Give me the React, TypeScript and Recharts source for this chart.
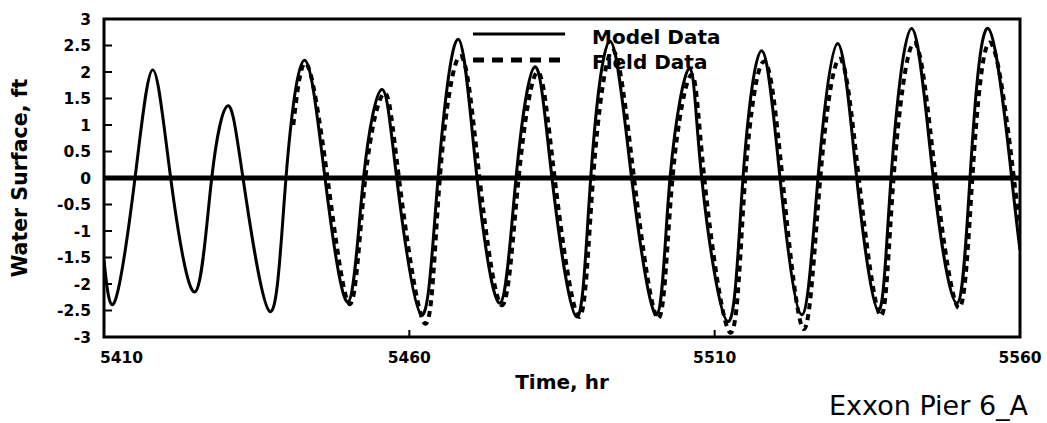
import React from 'react';
import { LineChart, Line, XAxis, YAxis, ReferenceLine, ReferenceArea } from 'recharts';

// Model Data: times (hr) and water surface (ft) read at extremes and zero crossings
const modelTime = [
  5410, 5411.8, 5415.08, 5417.97, 5420.92, 5424.9, 5427.64, 5430.26, 5432.76, 5437.18,
  5439.8, 5442.85, 5446.19, 5449.96, 5452.5, 5455.5, 5457.93, 5462.0, 5464.7, 5468.0,
  5471.08, 5474.85, 5477.47, 5480.58, 5483.36, 5487.4, 5489.7, 5492.86, 5496.4, 5500.5,
  5502.69, 5505.88, 5507.88, 5512.18, 5514.64, 5517.7, 5520.7, 5524.25, 5526.92, 5530.15,
  5533.26, 5536.8, 5538.88, 5542.26, 5545.8, 5549.63, 5551.81, 5554.8, 5558.64, 5560,
];
const modelLevel = [
  -1.55, -2.32, 0, 2.04, 0, -2.15, 0, 1.36, 0, -2.52,
  0, 2.22, 0, -2.34, 0, 1.67, 0, -2.58, 0, 2.62,
  0, -2.36, 0, 2.1, 0, -2.62, 0, 2.58, 0, -2.58,
  0, 2.07, 0, -2.71, 0, 2.4, 0, -2.58, 0, 2.54,
  0, -2.5, 0, 2.82, 0, -2.36, 0, 2.82, 0, -1.36,
];

// Field Data
const fieldTime = [
  5441.0, 5443.2, 5446.6, 5450.3, 5452.8, 5455.9, 5458.3, 5462.6, 5465.0, 5468.4,
  5471.5, 5475.2, 5477.9, 5481.0, 5483.8, 5487.8, 5490.1, 5493.3, 5496.8, 5500.8,
  5503.1, 5506.2, 5508.3, 5512.6, 5515.0, 5518.1, 5521.1, 5524.6, 5527.3, 5530.5,
  5533.6, 5537.2, 5539.3, 5542.7, 5546.2, 5550.0, 5552.2, 5555.2, 5559.0, 5560,
];
const fieldLevel = [
  1.0, 2.15, 0, -2.38, 0, 1.6, 0, -2.75, 0, 2.3,
  0, -2.4, 0, 2.0, 0, -2.62, 0, 2.4, 0, -2.65,
  0, 1.95, 0, -2.92, 0, 2.2, 0, -2.85, 0, 2.25,
  0, -2.6, 0, 2.55, 0, -2.45, 0, 2.55, 0, -0.9,
];

const xTicks = [5410, 5460, 5510, 5560];
const yTicks = [-3, -2.5, -2, -1.5, -1, -0.5, 0, 0.5, 1, 1.5, 2, 2.5, 3];

const modelData = modelTime.map((t, i) => ({ time: t, level: modelLevel[i] }));
const fieldData = fieldTime.map((t, i) => ({ time: t, level: fieldLevel[i] }));

const FONT = 'DejaVu Sans, sans-serif';

const XTick = (props: any) => {
  const { x, y, payload, index } = props;
  const first = index === 0;
  return (
    <text
      x={first ? x - 4 : x}
      y={y}
      dy="0.71em"
      textAnchor={first ? 'start' : 'middle'}
      fill="#000"
      fontFamily={FONT}
      fontWeight="bold"
      fontSize={15.5}
    >
      {payload.value}
    </text>
  );
};

export default function App() {
  return (
    <div style={{ position: 'absolute', left: 0, top: 0, width: 1047, height: 423, background: '#fff' }}>
      <LineChart
        width={1047}
        height={423}
        margin={{ top: 19, right: 27, bottom: 56, left: 44 }}
      >
        <ReferenceArea
          x1={5410}
          x2={5560}
          y1={-3}
          y2={3}
          fill="none"
          fillOpacity={0}
          stroke="#000"
          strokeWidth={3}
        />
        <XAxis
          dataKey="time"
          type="number"
          domain={[5410, 5560]}
          ticks={xTicks}
          interval={0}
          allowDataOverflow
          height={30}
          axisLine={false}
          tickSize={-7}
          tickMargin={22}
          tickLine={{ stroke: '#000', strokeWidth: 2 }}
          tick={<XTick />}
        />
        <YAxis
          type="number"
          domain={[-3, 3]}
          ticks={yTicks}
          interval={0}
          allowDataOverflow
          width={60}
          axisLine={false}
          tickSize={-8}
          tickMargin={21}
          tickLine={{ stroke: '#000', strokeWidth: 2 }}
          tick={{ fill: '#000', fontSize: 15.5, fontWeight: 'bold', fontFamily: FONT }}
        />
        <ReferenceLine y={0} stroke="#000" strokeWidth={5} />
        <Line
          data={fieldData}
          dataKey="level"
          type="natural"
          stroke="#000"
          strokeWidth={4}
          strokeDasharray="6 5"
          dot={false}
          isAnimationActive={false}
        />
        <Line
          data={modelData}
          dataKey="level"
          type="natural"
          stroke="#000"
          strokeWidth={3}
          dot={false}
          isAnimationActive={false}
        />
      </LineChart>
      <svg
        width={1047}
        height={423}
        style={{ position: 'absolute', left: 0, top: 0, pointerEvents: 'none' }}
      >
        <line x1={473} y1={34} x2={565} y2={34} stroke="#000" strokeWidth={3} />
        <line x1={473} y1={60} x2={565} y2={60} stroke="#000" strokeWidth={5} strokeDasharray="11 8" />
        <text x={592} y={44} fontFamily={FONT} fontWeight="bold" fontSize={20} fill="#000">Model Data</text>
        <text x={592} y={69} fontFamily={FONT} fontWeight="bold" fontSize={20} fill="#000">Field Data</text>
        <text
          transform="translate(26.5,178) rotate(-90)"
          textAnchor="middle"
          fontFamily={FONT}
          fontWeight="bold"
          fontSize={20.5}
          fill="#000"
        >
          Water Surface, ft
        </text>
        <text x={562} y={389} textAnchor="middle" fontFamily={FONT} fontWeight="bold" fontSize={20} fill="#000">
          Time, hr
        </text>
        <text x={829} y={415} fontFamily={FONT} fontSize={27} fill="#000">
          Exxon Pier 6_A
        </text>
      </svg>
    </div>
  );
}
